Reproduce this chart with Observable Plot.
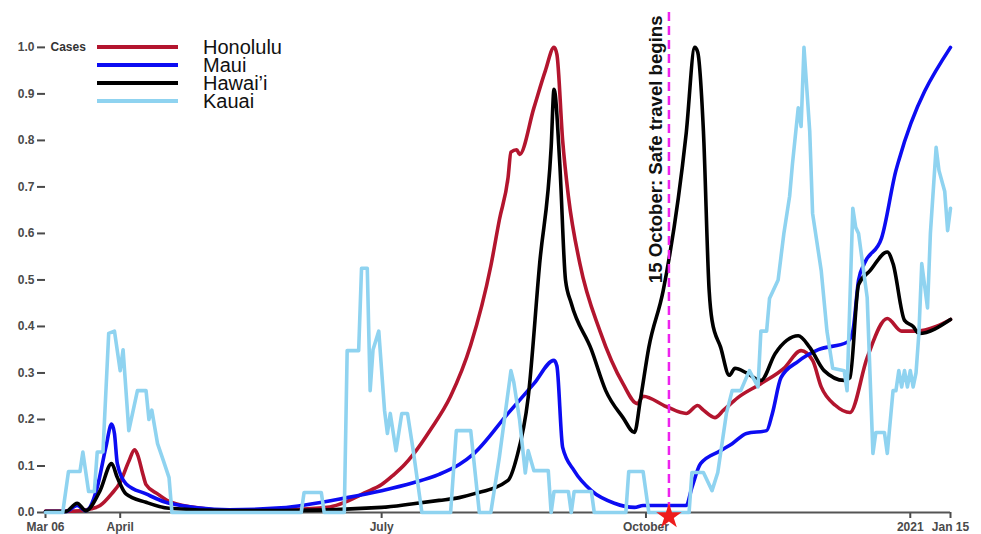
<!DOCTYPE html>
<html><head><meta charset="utf-8">
<script src="https://cdn.jsdelivr.net/npm/d3@7"></script>
<script src="https://cdn.jsdelivr.net/npm/@observablehq/plot@0.6"></script>
<style>
body{margin:0;background:#fff;}
#wrap{position:relative;width:981px;height:534px;overflow:hidden;font-family:"Liberation Sans",Arial,sans-serif;}
#legend{position:absolute;left:0;top:0;}
#wrap svg [aria-label="y-axis tick"] path,#wrap svg [aria-label="x-axis tick"] path{stroke-width:2;}
</style></head><body><div id="wrap"></div>
<script>
const seriesNames = ["Honolulu","Maui","Hawai’i","Kauai"];
const seriesColors = ["#b3152e","#0c0cf2","#000000","#8fd3f0"];

const honolulu = [["2020-03-06",0.003],["2020-03-16",0.003],["2020-03-22",0.008],["2020-03-25",0.015],["2020-03-29",0.04],["2020-04-01",0.065],["2020-04-04",0.11],["2020-04-06",0.135],["2020-04-07",0.125],["2020-04-09",0.08],["2020-04-10",0.06],["2020-04-14",0.04],["2020-04-18",0.024],["2020-04-26",0.012],["2020-05-09",0.005],["2020-05-27",0.006],["2020-06-13",0.012],["2020-06-19",0.024],["2020-06-25",0.042],["2020-07-01",0.06],["2020-07-05",0.08],["2020-07-09",0.103],["2020-07-12",0.125],["2020-07-18",0.178],["2020-07-25",0.25],["2020-08-01",0.36],["2020-08-08",0.53],["2020-08-11",0.63],["2020-08-14",0.72],["2020-08-15",0.775],["2020-08-17",0.78],["2020-08-18",0.77],["2020-08-23",0.87],["2020-08-27",0.95],["2020-08-30",1.0],["2020-08-31",0.985],["2020-09-02",0.8],["2020-09-04",0.68],["2020-09-08",0.535],["2020-09-15",0.39],["2020-09-23",0.277],["2020-09-28",0.234],["2020-09-30",0.25],["2020-10-08",0.228],["2020-10-15",0.213],["2020-10-19",0.23],["2020-10-21",0.22],["2020-10-25",0.204],["2020-10-28",0.22],["2020-11-02",0.247],["2020-11-10",0.277],["2020-11-18",0.31],["2020-11-24",0.348],["2020-11-28",0.327],["2020-12-01",0.27],["2020-12-06",0.23],["2020-12-11",0.215],["2020-12-17",0.333],["2020-12-24",0.417],["2020-12-29",0.39],["2021-01-03",0.39],["2021-01-10",0.4],["2021-01-15",0.415]];

const maui = [["2020-03-06",0.002],["2020-03-13",0.002],["2020-03-17",0.015],["2020-03-20",0.004],["2020-03-24",0.054],["2020-03-27",0.14],["2020-03-29",0.19],["2020-03-30",0.17],["2020-03-31",0.105],["2020-04-03",0.062],["2020-04-10",0.04],["2020-04-18",0.02],["2020-05-09",0.006],["2020-05-27",0.01],["2020-06-19",0.032],["2020-07-01",0.047],["2020-07-12",0.064],["2020-07-21",0.082],["2020-07-28",0.103],["2020-08-02",0.126],["2020-08-14",0.213],["2020-08-23",0.277],["2020-08-30",0.327],["2020-08-31",0.315],["2020-09-02",0.14],["2020-09-06",0.09],["2020-09-12",0.047],["2020-09-20",0.02],["2020-09-27",0.011],["2020-09-30",0.015],["2020-10-15",0.015],["2020-10-17",0.054],["2020-10-20",0.105],["2020-10-27",0.133],["2020-10-31",0.148],["2020-11-05",0.17],["2020-11-12",0.176],["2020-11-14",0.213],["2020-11-17",0.29],["2020-11-23",0.325],["2020-11-30",0.35],["2020-12-10",0.366],["2020-12-12",0.39],["2020-12-14",0.5],["2020-12-16",0.535],["2020-12-22",0.59],["2020-12-27",0.735],["2020-12-28",0.757],["2021-01-15",1.0]];

const hawaii = [["2020-03-06",0.002],["2020-03-13",0.002],["2020-03-17",0.02],["2020-03-20",0.004],["2020-03-25",0.047],["2020-03-29",0.105],["2020-03-31",0.075],["2020-04-03",0.04],["2020-04-10",0.022],["2020-04-18",0.009],["2020-05-09",0.004],["2020-05-27",0.004],["2020-07-01",0.011],["2020-07-12",0.019],["2020-07-21",0.026],["2020-07-28",0.032],["2020-08-02",0.04],["2020-08-14",0.069],["2020-08-17",0.118],["2020-08-21",0.247],["2020-08-25",0.535],["2020-08-29",0.785],["2020-08-30",0.91],["2020-09-01",0.75],["2020-09-03",0.5],["2020-09-05",0.45],["2020-09-12",0.35],["2020-09-17",0.262],["2020-09-23",0.204],["2020-09-27",0.172],["2020-09-29",0.24],["2020-10-02",0.355],["2020-10-07",0.477],["2020-10-15",0.815],["2020-10-18",1.0],["2020-10-19",0.99],["2020-10-21",0.82],["2020-10-23",0.477],["2020-10-24",0.413],["2020-10-27",0.355],["2020-10-30",0.295],["2020-11-01",0.31],["2020-11-05",0.3],["2020-11-10",0.284],["2020-11-15",0.342],["2020-11-19",0.37],["2020-11-23",0.38],["2020-11-27",0.355],["2020-12-02",0.305],["2020-12-09",0.284],["2020-12-11",0.29],["2020-12-14",0.49],["2020-12-18",0.52],["2020-12-24",0.56],["2020-12-26",0.535],["2020-12-30",0.413],["2021-01-02",0.4],["2021-01-04",0.385],["2021-01-15",0.415]];

const kauai = [["2020-03-06",0],["2020-03-12",0],["2020-03-14",0.088],["2020-03-18",0.088],["2020-03-19",0.13],["2020-03-21",0.045],["2020-03-23",0.045],["2020-03-24",0.13],["2020-03-26",0.13],["2020-03-28",0.385],["2020-03-30",0.39],["2020-04-01",0.305],["2020-04-02",0.35],["2020-04-04",0.176],["2020-04-07",0.262],["2020-04-10",0.262],["2020-04-11",0.2],["2020-04-12",0.22],["2020-04-14",0.148],["2020-04-16",0.112],["2020-04-18",0.075],["2020-04-19",0],["2020-06-03",0],["2020-06-04",0.043],["2020-06-10",0.043],["2020-06-11",0],["2020-06-18",0],["2020-06-19",0.348],["2020-06-23",0.348],["2020-06-24",0.525],["2020-06-26",0.525],["2020-06-27",0.262],["2020-06-28",0.35],["2020-06-30",0.39],["2020-07-02",0.22],["2020-07-03",0.17],["2020-07-04",0.213],["2020-07-06",0.133],["2020-07-08",0.213],["2020-07-10",0.213],["2020-07-12",0.133],["2020-07-15",0],["2020-07-25",0],["2020-07-27",0.176],["2020-08-01",0.176],["2020-08-04",0],["2020-08-08",0],["2020-08-11",0.12],["2020-08-15",0.305],["2020-08-16",0.28],["2020-08-18",0.2],["2020-08-20",0.085],["2020-08-21",0.133],["2020-08-23",0.09],["2020-08-28",0.09],["2020-08-29",0],["2020-08-30",0.045],["2020-09-04",0.045],["2020-09-05",0],["2020-09-06",0.045],["2020-09-12",0.045],["2020-09-13",0],["2020-09-24",0],["2020-09-25",0.088],["2020-09-30",0.088],["2020-10-02",0],["2020-10-16",0],["2020-10-17",0.086],["2020-10-21",0.086],["2020-10-24",0.047],["2020-10-26",0.086],["2020-10-29",0.213],["2020-10-31",0.262],["2020-11-03",0.262],["2020-11-06",0.305],["2020-11-09",0.27],["2020-11-10",0.39],["2020-11-12",0.39],["2020-11-13",0.46],["2020-11-16",0.5],["2020-11-17",0.55],["2020-11-18",0.6],["2020-11-20",0.68],["2020-11-21",0.75],["2020-11-23",0.87],["2020-11-24",0.83],["2020-11-25",1.0],["2020-11-27",0.82],["2020-11-28",0.643],["2020-12-01",0.52],["2020-12-03",0.39],["2020-12-05",0.31],["2020-12-09",0.305],["2020-12-10",0.262],["2020-12-12",0.654],["2020-12-13",0.613],["2020-12-14",0.6],["2020-12-17",0.462],["2020-12-19",0.127],["2020-12-20",0.172],["2020-12-23",0.172],["2020-12-24",0.127],["2020-12-26",0.262],["2020-12-27",0.262],["2020-12-28",0.305],["2020-12-29",0.27],["2020-12-30",0.305],["2020-12-31",0.27],["2021-01-01",0.305],["2021-01-02",0.27],["2021-01-03",0.3],["2021-01-04",0.385],["2021-01-05",0.535],["2021-01-07",0.44],["2021-01-08",0.6],["2021-01-10",0.785],["2021-01-11",0.735],["2021-01-13",0.69],["2021-01-14",0.606],["2021-01-15",0.654]];

const xDomain = ["2020-03-06","2021-01-15"];
const xTickDates = ["2020-03-06","2020-04-01","2020-07-01","2020-10-01","2021-01-01","2021-01-15"];
const xTickLabels = ["Mar 06","April","July","October","2021","Jan 15"];
const yTicks = [0,0.1,0.2,0.3,0.4,0.5,0.6,0.7,0.8,0.9,1.0];
const yLabel = "Cases";
const eventDate = "2020-10-09";
const eventLabel = "15 October: Safe travel begins";

const allSeries = [honolulu, maui, hawaii, kauai];
const rows = allSeries.flatMap((s, k) => s.map(([d, v]) => ({date: new Date(d), value: v, name: seriesNames[k]})));
const tickLabelMap = new Map(xTickDates.map((d, i) => [+new Date(d), xTickLabels[i]]));
const ev = new Date(eventDate);

const lineMarks = seriesNames.map((n, k) => Plot.line(rows.filter(r => r.name === n), {
  x: "date", y: "value", stroke: seriesColors[k], strokeWidth: 3.6,
  curve: n === "Kauai" ? "linear" : "monotone-x", strokeLinejoin: "round"
}));

const chart = Plot.plot({
  width: 981, height: 534,
  marginLeft: 45, marginRight: 31, marginTop: 12, marginBottom: 22,
  style: {fontFamily: "Liberation Sans, Arial, sans-serif", fontSize: "12px", fontWeight: "bold", color: "#4a4a4a", background: "white", overflow: "visible"},
  x: {type: "utc", domain: xDomain.map(d => new Date(d)), ticks: xTickDates.map(d => new Date(d)),
      tickFormat: d => tickLabelMap.get(+d), tickSize: 6, tickPadding: 4, label: null},
  y: {domain: [0, 1.075], ticks: yTicks, tickFormat: d3.format(".1f"), tickSize: 8, tickPadding: 3, label: null},
  marks: [
    Plot.ruleY([0], {stroke: "#555", strokeWidth: 2}),
    ...lineMarks,
    Plot.ruleX([ev], {stroke: "#ee22ee", strokeWidth: 2.5, strokeDasharray: "9,5"}),
    Plot.text([eventLabel], {x: ev, y: 1.075, text: d => d, rotate: -90, textAnchor: "end", dx: -13, dy: 3,
      fontSize: 18.6, fontWeight: "bold", fill: "#111"}),
    Plot.text([yLabel], {x: new Date(xDomain[0]), y: 1.0, text: d => d, textAnchor: "start", dx: 5,
      fontSize: 12, fontWeight: "bold", fill: "#333"}),
    Plot.dot([ev], {x: d => d, y: 0, symbol: "star", r: 8, fill: "#ee1c1c", stroke: "none", dy: 4})
  ]
});
const wrap = document.getElementById("wrap");
wrap.appendChild(chart);

// legend overlay
const lg = d3.select(wrap).append("svg").attr("id", "legend").attr("width", 320).attr("height", 120);
seriesNames.forEach((n, k) => {
  const y = 47 + k * 18;
  lg.append("line").attr("x1", 97).attr("x2", 178).attr("y1", y).attr("y2", y)
    .attr("stroke", seriesColors[k]).attr("stroke-width", 4);
  lg.append("text").attr("x", 203).attr("y", y).attr("dy", "0.36em")
    .attr("font-family", "Liberation Sans, Arial, sans-serif").attr("font-size", 20).attr("fill", "#111").text(n);
});
</script></body></html>
